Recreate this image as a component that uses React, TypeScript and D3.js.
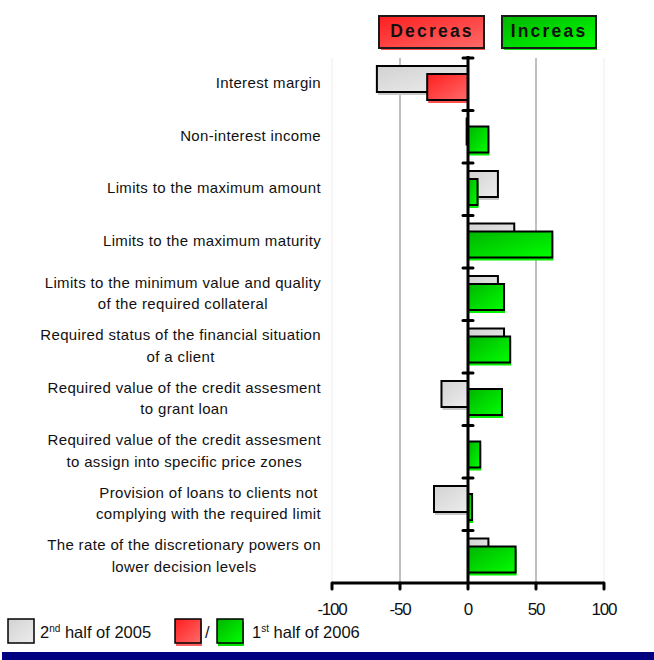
import React from "react";
import * as d3 from "d3";

// Survey factors (one row per factor)
const categories: string[][] = [
  ["Interest margin"],
  ["Non-interest income"],
  ["Limits to the maximum amount"],
  ["Limits to the maximum maturity"],
  ["Limits to the minimum value and quality", "of the required collateral"],
  ["Required status of the financial situation", "of a client"],
  ["Required value of the credit assesment", "to grant loan"],
  ["Required value of the credit assesment", "to assign into specific price zones"],
  ["Provision of loans to clients not", "complying with the required limit"],
  ["The rate of the discretionary powers on", "lower decision levels"],
];

// Net percentages
const prevHalf: number[] = [-67, -1, 22, 34, 22, 26.5, -19.5, 0, -25, 15];
const currHalf: number[] = [-30, 15, 7, 62, 26.5, 31, 25, 9, 3, 35];

const xTicks: number[] = [-100, -50, 0, 50, 100];
const gridTicks: number[] = [-50, 50];
const edgeTicks: number[] = [-100, 100];

const W = 654;
const H = 660;
const FONT = "'Liberation Sans', Arial, sans-serif";

let measureCtx: CanvasRenderingContext2D | null = null;
function textWidth(s: string, font: string, spacing: number): number {
  if (!measureCtx) measureCtx = document.createElement("canvas").getContext("2d");
  if (!measureCtx) return s.length * 7;
  measureCtx.font = font;
  return measureCtx.measureText(s).width + spacing * s.length;
}

export default function App() {
  const x = d3.scaleLinear().domain([-100, 100]).range([332, 604]);
  const y = d3
    .scaleBand<number>()
    .domain(d3.range(categories.length))
    .range([58, 583])
    .padding(0);
  const bw = y.bandwidth();
  const barH = 26;
  const x0 = x(0);

  const labelFontSize = 15;
  const labelSpacing = 0.35;
  const labelRight = 321;

  const barRect = (v: number) => ({
    x: Math.min(x(v), x0),
    w: Math.abs(x(v) - x0),
  });

  return (
    <svg width={W} height={H} style={{ position: "absolute", left: 0, top: 0 }}>
      <defs>
        <linearGradient id="gGrey" x1="0" y1="0" x2="1" y2="1">
          <stop offset="0" stopColor="#d2d2d2" />
          <stop offset="1" stopColor="#ededed" />
        </linearGradient>
        <linearGradient id="gRed" x1="0" y1="0" x2="1" y2="1">
          <stop offset="0" stopColor="#ff1e1e" />
          <stop offset="1" stopColor="#ff6a6a" />
        </linearGradient>
        <linearGradient id="gGreen" x1="0" y1="0" x2="1" y2="1">
          <stop offset="0" stopColor="#00b400" />
          <stop offset="1" stopColor="#00ff00" />
        </linearGradient>
      </defs>
      <rect x={0} y={0} width={W} height={H} fill="#ffffff" />

      {/* plot edges */}
      {edgeTicks.map((t) => (
        <line key={"e" + t} x1={x(t)} x2={x(t)} y1={58} y2={583} stroke="#ececec" strokeWidth={1} />
      ))}
      {/* gridlines */}
      {gridTicks.map((t) => (
        <line key={"g" + t} x1={x(t)} x2={x(t)} y1={58} y2={583} stroke="#808080" strokeWidth={1} />
      ))}

      {/* header boxes */}
      <g fontFamily={FONT} fontWeight="bold" fontSize={17.5} letterSpacing={2.2}>
        <rect x={381} y={19} width={104} height={31} fill="#ff4040" opacity={0.9} />
        <rect x={379} y={16} width={105} height={32} fill="url(#gRed)" stroke="#1a1a1a" strokeWidth={2} />
        <text x={432} y={36.5} textAnchor="middle" fill="#111">Decreas</text>
        <rect x={504} y={19} width={93} height={31} fill="#00e000" opacity={0.9} />
        <rect x={502} y={16} width={94} height={32} fill="url(#gGreen)" stroke="#1a1a1a" strokeWidth={2} />
        <text x={549} y={36.5} textAnchor="middle" fill="#111">Increas</text>
      </g>

      {/* previous half-year bars */}
      {prevHalf.map((v, i) => {
        const r = barRect(v);
        const top = (y(i) as number) + 8;
        return (
          <g key={"p" + i}>
            <rect x={r.x + 1} y={top + 3} width={r.w} height={barH} fill="#c8c8c8" />
            <rect x={r.x} y={top} width={r.w} height={barH} fill="url(#gGrey)" stroke="#000" strokeWidth={2} />
          </g>
        );
      })}

      {/* current half-year bars */}
      {currHalf.map((v, i) => {
        const r = barRect(v);
        const top = (y(i) as number) + 16;
        const neg = v < 0;
        return (
          <g key={"c" + i}>
            <rect x={r.x + 1} y={top + 3} width={r.w} height={barH} fill={neg ? "#ff5050" : "#00f000"} />
            <rect
              x={r.x}
              y={top}
              width={r.w}
              height={barH}
              fill={neg ? "url(#gRed)" : "url(#gGreen)"}
              stroke="#000"
              strokeWidth={2}
            />
          </g>
        );
      })}

      {/* zero axis with category ticks */}
      <line x1={x0} x2={x0} y1={56} y2={583} stroke="#000" strokeWidth={3} />
      {d3.range(categories.length).map((k) => {
        const yy = y(k) as number;
        return (
          <line key={"ct" + k} x1={x0 - 5} x2={x0 + 5} y1={yy} y2={yy} stroke="#000" strokeWidth={3} strokeLinecap="round" />
        );
      })}

      {/* value axis */}
      <line x1={x(-100)} x2={x(100)} y1={583} y2={583} stroke="#000" strokeWidth={3} />
      {xTicks.map((t) => (
        <g key={"t" + t}>
          <line x1={x(t)} x2={x(t)} y1={583} y2={589} stroke="#000" strokeWidth={3} strokeLinecap="round" />
          <text
            x={x(t)}
            y={615}
            textAnchor="middle"
            fontFamily={FONT}
            fontSize={17}
            letterSpacing={-1.2}
            fill="#111"
          >
            {t}
          </text>
        </g>
      ))}

      {/* category labels */}
      <g fontFamily={FONT} fontSize={labelFontSize} letterSpacing={labelSpacing} fill="#111">
        {categories.map((lines, i) => {
          const font = `${labelFontSize}px ${FONT}`;
          const maxW = Math.max(...lines.map((l) => textWidth(l, font, labelSpacing)));
          const cx = labelRight - maxW / 2;
          const cy = (y(i) as number) + bw / 2;
          const lh = 21.5;
          const y0 = cy - ((lines.length - 1) * lh) / 2 + 4;
          return (
            <text key={"l" + i} textAnchor="middle">
              {lines.map((l, j) => (
                <tspan key={j} x={cx} y={y0 + j * lh}>
                  {l}
                </tspan>
              ))}
            </text>
          );
        })}
      </g>

      {/* legend */}
      <g fontFamily={FONT} fontSize={16.5} fill="#111">
        <rect x={8} y={619} width={26} height={24} fill="url(#gGrey)" stroke="#000" strokeWidth={1.5} />
        <text x={40} y={638}>
          2<tspan dy={-6} fontSize={10}>nd</tspan>
          <tspan dy={6}> half of 2005</tspan>
        </text>
        <rect x={176} y={622} width={26} height={24} fill="#ff6060" />
        <rect x={175} y={619} width={26} height={24} fill="url(#gRed)" stroke="#000" strokeWidth={1.5} />
        <text x={205} y={638}>/</text>
        <rect x={218} y={622} width={26} height={24} fill="#00e000" />
        <rect x={217} y={619} width={26} height={24} fill="url(#gGreen)" stroke="#000" strokeWidth={1.5} />
        <text x={252} y={638}>
          1<tspan dy={-6} fontSize={10}>st</tspan>
          <tspan dy={6}> half of 2006</tspan>
        </text>
      </g>

      {/* footer band */}
      <rect x={2} y={652} width={W - 2} height={8} fill="#000080" />
    </svg>
  );
}
